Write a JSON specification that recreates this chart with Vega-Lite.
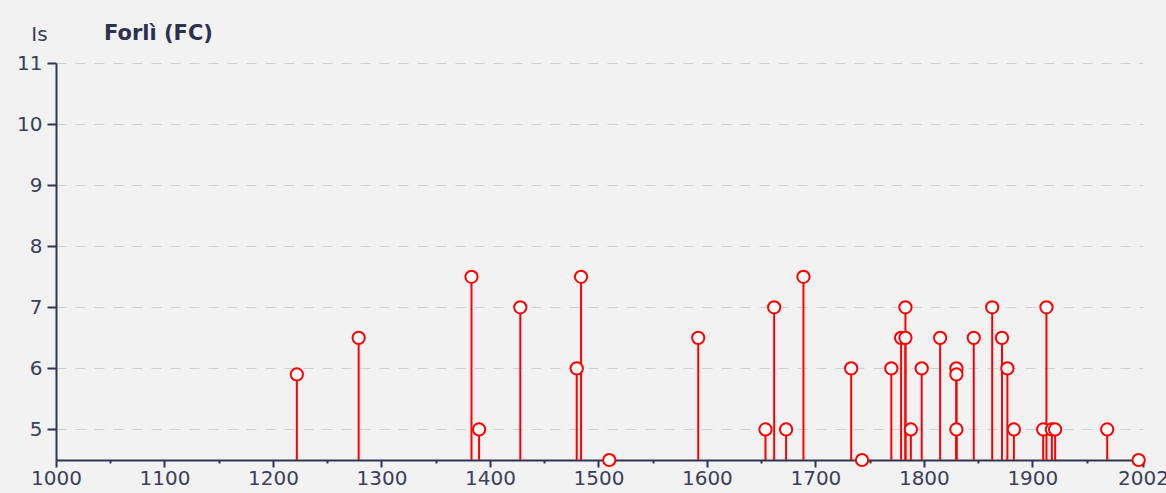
{
  "$schema": "https://vega.github.io/schema/vega-lite/v6.json",
  "width": 1087,
  "height": 397,
  "autosize": {"type": "none"},
  "padding": {"left": 56, "top": 63, "right": 23, "bottom": 33},
  "background": "#f2f2f2",
  "title": {
    "text": "Forlì (FC)",
    "anchor": "start",
    "frame": "group",
    "dx": 48,
    "offset": -20,
    "font": "DejaVu Sans",
    "fontSize": 21,
    "fontWeight": "bold",
    "color": "#2c3150"
  },
  "config": {
    "view": {"stroke": null},
    "font": "DejaVu Sans"
  },
  "data": {
    "values": [
      {"year": 1222, "is": 5.9},
      {"year": 1279, "is": 6.5},
      {"year": 1383, "is": 7.5},
      {"year": 1390, "is": 5.0},
      {"year": 1428, "is": 7.0},
      {"year": 1480, "is": 6.0},
      {"year": 1484, "is": 7.5},
      {"year": 1510, "is": 4.5},
      {"year": 1592, "is": 6.5},
      {"year": 1654, "is": 5.0},
      {"year": 1662, "is": 7.0},
      {"year": 1673, "is": 5.0},
      {"year": 1689, "is": 7.5},
      {"year": 1733, "is": 6.0},
      {"year": 1743, "is": 4.5},
      {"year": 1770, "is": 6.0},
      {"year": 1779, "is": 6.5},
      {"year": 1783, "is": 7.0},
      {"year": 1783, "is": 6.5},
      {"year": 1788, "is": 5.0},
      {"year": 1798, "is": 6.0},
      {"year": 1815, "is": 6.5},
      {"year": 1830, "is": 6.0},
      {"year": 1830, "is": 5.9},
      {"year": 1830, "is": 5.0},
      {"year": 1846, "is": 6.5},
      {"year": 1863, "is": 7.0},
      {"year": 1872, "is": 6.5},
      {"year": 1877, "is": 6.0},
      {"year": 1883, "is": 5.0},
      {"year": 1910, "is": 5.0},
      {"year": 1913, "is": 7.0},
      {"year": 1918, "is": 5.0},
      {"year": 1921, "is": 5.0},
      {"year": 1969, "is": 5.0},
      {"year": 1998, "is": 4.5}
    ]
  },
  "encoding": {
    "x": {
      "field": "year",
      "type": "quantitative",
      "scale": {"domain": [1000, 2002], "nice": false, "zero": false},
      "axis": {
        "title": null,
        "values": [1000, 1050, 1100, 1150, 1200, 1250, 1300, 1350, 1400, 1450, 1500, 1550, 1600, 1650, 1700, 1750, 1800, 1850, 1900, 1950, 2002],
        "labelExpr": "(datum.value % 100 === 0 || datum.value === 2002) ? datum.label : ''",
        "format": "d",
        "labelOverlap": false,
        "labelFlush": false,
        "grid": false,
        "domainColor": "#2f3452",
        "domainWidth": 2,
        "tickColor": "#2f3452",
        "tickWidth": 2,
        "tickSize": {"condition": {"test": "datum.value % 100 === 50", "value": 3}, "value": 7},
        "labelFont": "DejaVu Sans",
        "labelFontSize": 20,
        "labelColor": "#3a3f5c",
        "labelPadding": 1
      }
    },
    "y": {
      "field": "is",
      "type": "quantitative",
      "scale": {"domain": [4.5, 11], "nice": false, "zero": false},
      "axis": {
        "title": "Is",
        "titleAngle": 0,
        "titleAlign": "center",
        "titleBaseline": "alphabetic",
        "titleX": -17,
        "titleY": -23,
        "titleFont": "DejaVu Sans",
        "titleFontSize": 20,
        "titleFontWeight": "normal",
        "titleColor": "#3a3f5c",
        "values": [5, 6, 7, 8, 9, 10, 11],
        "format": "d",
        "grid": true,
        "gridColor": "#cfcfcf",
        "gridDash": [10, 9],
        "gridWidth": 1,
        "domainColor": "#2f3452",
        "domainWidth": 2,
        "tickColor": "#2f3452",
        "tickWidth": 2,
        "tickSize": 9,
        "labelFont": "DejaVu Sans",
        "labelFontSize": 20,
        "labelColor": "#3a3f5c",
        "labelPadding": 5
      }
    }
  },
  "layer": [
    {
      "mark": {"type": "rule", "color": "#ff0000", "strokeWidth": 2},
      "encoding": {"y2": {"datum": 4.5}}
    },
    {
      "mark": {"type": "point", "shape": "circle", "filled": false, "fill": "#ffffff", "fillOpacity": 1, "stroke": "#ff0000", "strokeWidth": 2, "size": 150, "opacity": 1, "clip": false}
    }
  ]
}
